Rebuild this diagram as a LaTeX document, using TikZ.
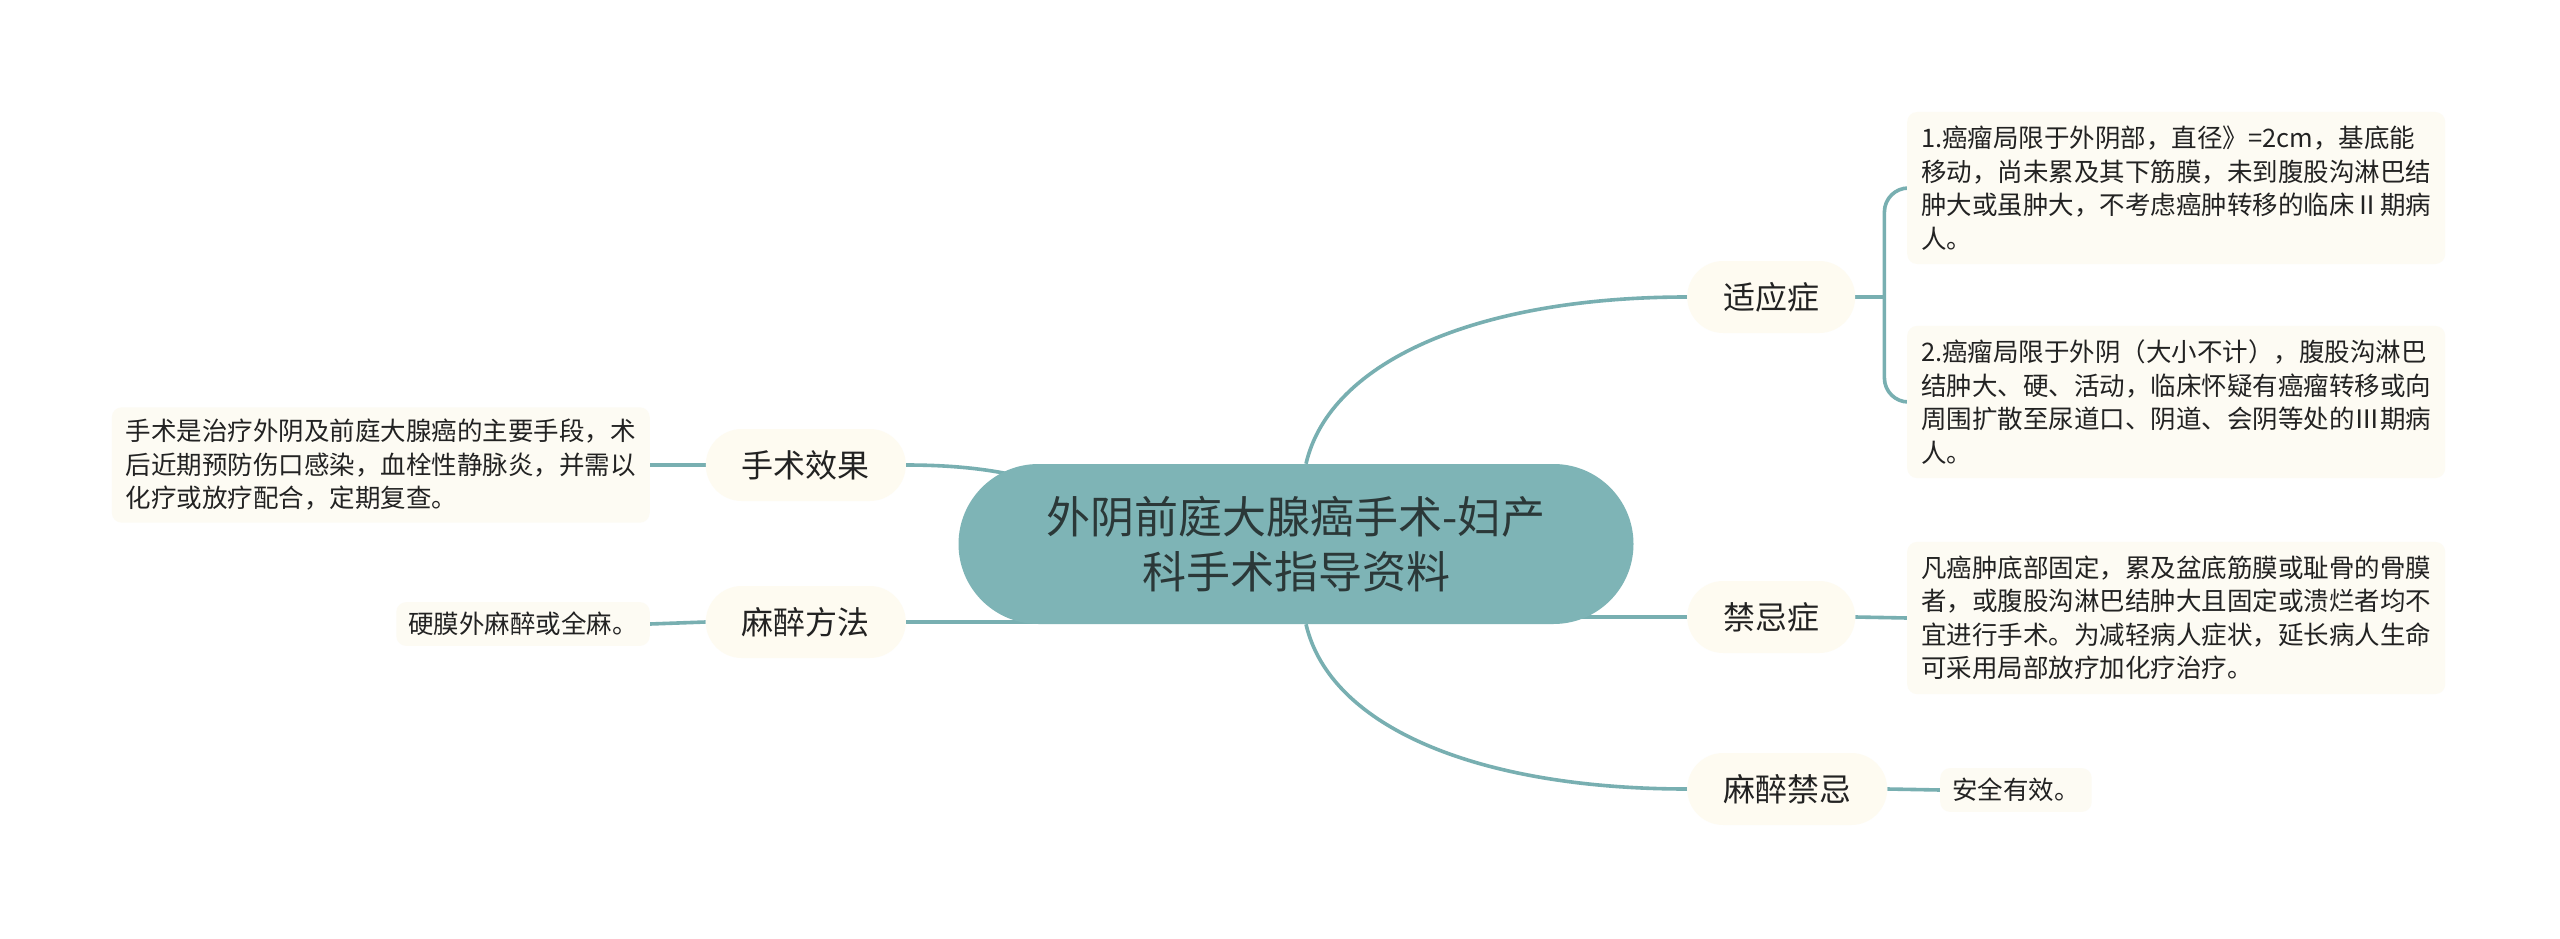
\documentclass[tikz,border=0pt]{standalone}
\usepackage{fontspec}
\setmainfont{Noto Sans CJK SC}
\usetikzlibrary{backgrounds,calc}
\definecolor{rootfill}{HTML}{7EB4B6}
\definecolor{linec}{HTML}{78AFB1}
\definecolor{cream}{HTML}{FEFBF1}
\definecolor{leaffill}{HTML}{FDFBF3}
\definecolor{roottext}{HTML}{2B3838}
\definecolor{txt}{HTML}{222222}
\tikzset{
  rootbox/.style={fill=rootfill, rounded corners=80pt, minimum width=675pt, minimum height=160pt,
    align=center, text=roottext, font=\fontsize{44pt}{55pt}\selectfont, inner sep=0pt},
  midbox/.style={fill=cream, rounded corners=36pt, minimum height=72pt, inner xsep=36pt, inner ysep=0pt,
    text=txt, font=\fontsize{32pt}{38pt}\selectfont},
  leafbox/.style={fill=leaffill, rounded corners=10pt, inner xsep=14pt, inner ysep=14pt, align=left,
    text=txt, font=\fontsize{25.5pt}{33.5pt}\selectfont},
  conn/.style={draw=linec, line width=3.6pt}
}
\begin{document}
\begin{tikzpicture}[x=1pt,y=-1pt]
\useasboundingbox (0,0) rectangle (2560,939);
\node[rootbox] (root) at (1296,544) {外阴前庭大腺癌手术-妇产\\科手术指导资料};
\node[midbox, anchor=west] (syz) at (1687,297) {适应症};
\node[midbox, anchor=west] (jjz) at (1687,617) {禁忌症};
\node[midbox, anchor=west] (mzjj) at (1687,789) {麻醉禁忌};
\node[midbox, anchor=east] (ssxg) at (906,465) {手术效果};
\node[midbox, anchor=east] (mzff) at (906,622) {麻醉方法};
\node[leafbox, anchor=west] (l1) at (1907,188) {1.癌瘤局限于外阴部，直径》=2cm，基底能\\移动，尚未累及其下筋膜，未到腹股沟淋巴结\\肿大或虽肿大，不考虑癌肿转移的临床Ⅱ期病\\人。};
\node[leafbox, anchor=west] (l2) at (1907,402) {2.癌瘤局限于外阴（大小不计），腹股沟淋巴\\结肿大、硬、活动，临床怀疑有癌瘤转移或向\\周围扩散至尿道口、阴道、会阴等处的Ⅲ期病\\人。};
\node[leafbox, anchor=west] (l3) at (1907,618) {凡癌肿底部固定，累及盆底筋膜或耻骨的骨膜\\者，或腹股沟淋巴结肿大且固定或溃烂者均不\\宜进行手术。为减轻病人症状，延长病人生命\\可采用局部放疗加化疗治疗。};
\node[leafbox, anchor=west, inner ysep=10pt, inner xsep=12pt] (l4) at (1940,790) {安全有效。};
\node[leafbox, anchor=east, inner ysep=12pt] (ll1) at (650,465) {手术是治疗外阴及前庭大腺癌的主要手段，术\\后近期预防伤口感染，血栓性静脉炎，并需以\\化疗或放疗配合，定期复查。};
\node[leafbox, anchor=east, inner ysep=10pt, inner xsep=12pt] (ll2) at (650,624) {硬膜外麻醉或全麻。};
\coordinate (bx) at ($(syz.east)+(29,0)$);
\begin{scope}[on background layer]
\fill[white] (0,0) rectangle (2560,939);
\draw[conn] (root.north) ++(10,0) .. controls (1330,360) and (1480,297) .. (syz.west);
\draw[conn] (root.south) ++(10,0) .. controls (1330,728) and (1480,789) .. (mzjj.west);
\draw[conn] (jjz.west) -- (jjz.west -| root.center);
\draw[conn] (mzff.east) -- (mzff.east -| root.center);
\draw[conn] (ssxg.east) to[out=0,in=180,looseness=1.3] (root.center);
\draw[conn] (syz.east) -- (bx);
\draw[conn, rounded corners=24pt] (l1.west) -- (l1.west -| bx) -- (l2.west -| bx) -- (l2.west);
\draw[conn] (jjz.east) -- (l3.west);
\draw[conn] (mzjj.east) -- (l4.west);
\draw[conn] (ll1.east) -- (ssxg.west);
\draw[conn] (ll2.east) -- (mzff.west);
\end{scope}
\end{tikzpicture}
\end{document}
